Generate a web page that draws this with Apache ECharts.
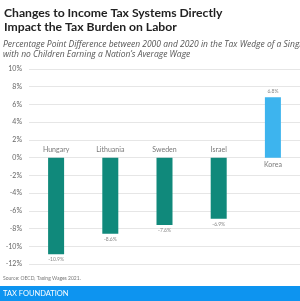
<!DOCTYPE html>
<html><head><meta charset="utf-8">
<script src="https://cdn.jsdelivr.net/npm/echarts@6/dist/echarts.min.js"></script>
<style>html,body{margin:0;padding:0;background:#fff}#c{width:300px;height:301px}</style>
</head><body><div id="c"></div>
<script>
const categories = ['Hungary', 'Lithuania', 'Sweden', 'Israel', 'Korea'];
const values = [-10.9, -8.6, -7.6, -6.9, 6.8];
const yTicks = [-12, -10, -8, -6, -4, -2, 0, 2, 4, 6, 8, 10];
const titleLines = ['Changes to Income Tax Systems Directly', 'Impact the Tax Burden on Labor'];
const subtitleLines = ['Percentage Point Difference between 2000 and 2020 in the Tax Wedge of a Single Worker', 'with no Children Earning a Nation\u2019s Average Wage'];
const source = 'Source: OECD, Taxing Wages 2021.';
const brand = 'TAX FOUNDATION';

const teal = '#10897b', blue = '#3db4ee';
const chart = echarts.init(document.getElementById('c'), null, {renderer: 'canvas'});
chart.setOption({
  animation: false,
  grid: {left: 29, right: 0, top: 69, bottom: 37},
  xAxis: {type: 'category', data: categories, axisLine: {show: false}, axisTick: {show: false}, axisLabel: {show: false}, splitLine: {show: false}},
  yAxis: {type: 'value', min: yTicks[0], max: yTicks[yTicks.length - 1], interval: 2,
    axisLine: {show: false}, axisTick: {show: false},
    axisLabel: {formatter: v => v + '%', color: '#666', fontSize: 7, fontFamily: 'Lato', margin: 7},
    splitLine: {lineStyle: {color: '#e6e6e6', width: 1}}},
  series: [{
    type: 'bar', barWidth: 16,
    data: values.map((v, i) => ({value: v, itemStyle: {color: v < 0 ? teal : blue}})),
    label: {show: true, position: 'outside', formatter: p => p.value.toFixed(1) + '%', color: '#888', fontSize: 5, fontFamily: 'Lato', distance: 3}
  }, {
    type: 'scatter', symbolSize: 0,
    data: values.map((v, i) => ({value: [i, 0], label: {position: v < 0 ? 'top' : 'bottom'}})),
    label: {show: true, formatter: p => categories[p.dataIndex], color: '#555', fontSize: 7, fontFamily: 'Lato', distance: 4}
  }],
  graphic: [
    {type: 'text', left: 4, top: 6, style: {text: titleLines.join('\n'), font: 'bold 12.2px Lato', fill: '#222', lineHeight: 14}},
    {type: 'text', left: 3, top: 40, style: {text: subtitleLines.join('\n'), font: 'italic 8.5px "Open Sans"', fill: '#555', lineHeight: 10}},
    {type: 'text', left: 3, top: 276, style: {text: source, font: '5px Lato', fill: '#777'}},
    {type: 'rect', shape: {x: 0, y: 286, width: 300, height: 15}, style: {fill: '#0d94f0'}},
    {type: 'text', left: 3, top: 290, style: {text: brand, font: '7.5px Lato', fill: '#fff'}}
  ]
});
</script></body></html>
